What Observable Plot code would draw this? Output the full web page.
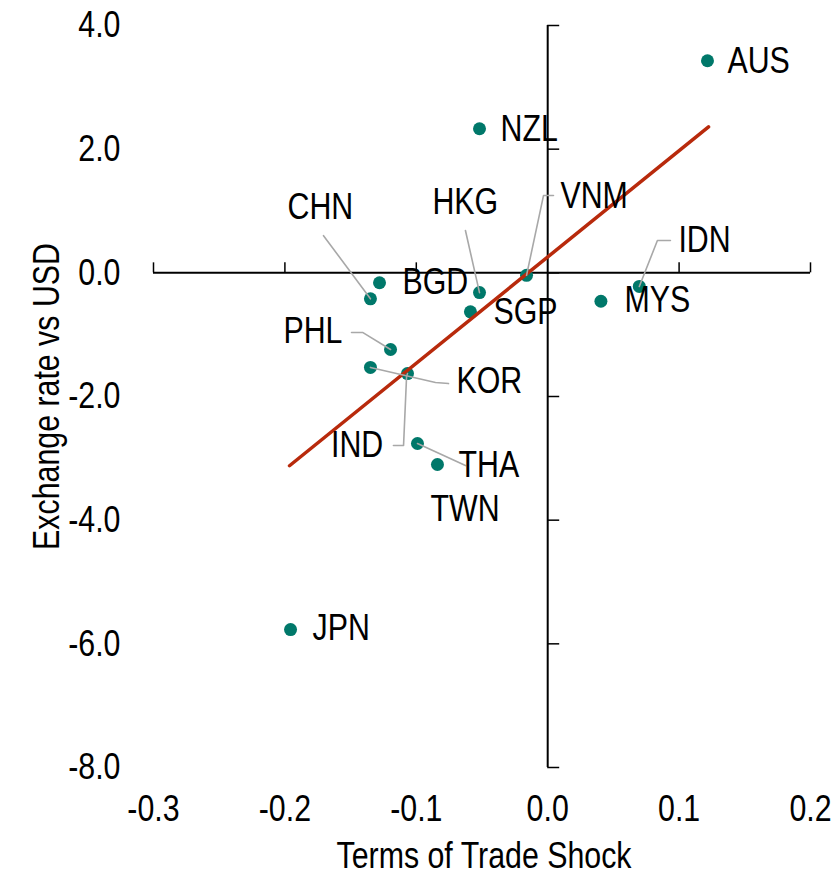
<!DOCTYPE html>
<html>
<head>
<meta charset="utf-8">
<script src="https://cdn.jsdelivr.net/npm/d3@7"></script>
<script src="https://cdn.jsdelivr.net/npm/@observablehq/plot@0.6"></script>
<style>
  html, body { margin: 0; padding: 0; background: #fff; }
  #chart svg { display: block; }
</style>
</head>
<body>
<div id="chart"></div>
<script>
// ---- data ----
const countries = ["AUS","NZL","BGD","CHN","HKG","SGP","VNM","IDN","MYS","PHL","KOR","IND","TWN","THA","JPN"];
const totShock  = [0.1216,-0.0519,-0.128,-0.1349,-0.0519,-0.0588,-0.0161,0.0697,0.0405,-0.1196,-0.1349,-0.1067,-0.0991,-0.0839,-0.1957];
const fxChange  = [3.43, 2.33, -0.16, -0.42, -0.32, -0.63, -0.04, -0.22, -0.46, -1.24, -1.53, -1.63, -2.76, -3.10, -5.77];

// fitted line endpoints
const trendX = [-0.1965, 0.1224];
const trendY = [-3.12, 2.36];

// axis ticks
const xTicks = [-0.3, -0.2, -0.1, 0.0, 0.1, 0.2];
const yTicks = [-8, -6, -4, -2, 0, 2, 4];

// annotation placement (data units): label anchor
const labelX = [0.1368,-0.0359,-0.1105,-0.198,-0.0877,-0.0413,0.0097,0.0995,0.0584,-0.2011,-0.0694,-0.1649,-0.0892,-0.0679,-0.179];
const labelY = [3.43, 2.33, -0.157, 1.056, 1.137, -0.642, 1.234, 0.524, -0.448, -0.949, -1.758, -2.793, -3.828, -3.116, -5.753];

// leader line vertices (data units), ending at the country's point
const leaderPts = {
  CHN: [[-0.1706, 0.601]],
  HKG: [[-0.0626, 0.684]],
  VNM: [[0.0044, 1.250], [-0.0032, 1.250]],
  IDN: [[0.0934, 0.522], [0.0835, 0.522]],
  PHL: [[-0.1493, -0.964], [-0.1409, -0.964]],
  KOR: [[-0.0755, -1.791], [-0.0854, -1.773]],
  IND: [[-0.1174, -2.793], [-0.1097, -2.793], [-0.1074, -1.677]],
  TWN: [[-0.0626, -3.117]]
};

// ---- build tables ----
const points = countries.map((c, i) => ({c, x: totShock[i], y: fxChange[i], lx: labelX[i], ly: labelY[i]}));
const trend = trendX.map((x, i) => ({x, y: trendY[i]}));
const leaders = [];
for (const [c, pts] of Object.entries(leaderPts)) {
  const p = points.find(d => d.c === c);
  pts.forEach(([x, y]) => leaders.push({c, x, y}));
  leaders.push({c, x: p.x, y: p.y});
}

const FONT = "'Liberation Sans Narrow', 'Arial Narrow', 'Liberation Sans', Arial, sans-serif";
const FS = 37;
const fmt = d => d.toFixed(1);

const chart = Plot.plot({
  width: 836,
  height: 875,
  marginLeft: 153,
  marginRight: 26,
  marginTop: 25,
  marginBottom: 108,
  style: {fontFamily: FONT, fontSize: FS + "px", color: "#000", background: "#fff", overflow: "visible"},
  x: {domain: [-0.3, 0.2], axis: null},
  y: {domain: [-8, 4], axis: null},
  marks: [
    // axis lines through origin
    Plot.ruleY([0], {x1: -0.3, x2: 0.2, stroke: "#000", strokeWidth: 2}),
    Plot.ruleX([0], {y1: -8, y2: 4, stroke: "#000", strokeWidth: 2}),
    // tick marks
    Plot.ruleX(xTicks.filter(d => d !== 0), {x: d => d, y1: 0, y2: 0, insetTop: -10, stroke: "#000", strokeWidth: 1.5}),
    Plot.ruleY(yTicks, {y: d => d, x1: 0, x2: 0, insetRight: -12, stroke: "#000", strokeWidth: 1.5}),
    // tick labels
    Plot.text(yTicks, {y: d => d, text: d => fmt(d), frameAnchor: "left", textAnchor: "end", dx: -33, lineAnchor: "middle", fontSize: FS}),
    Plot.text(xTicks, {x: d => d, text: d => fmt(d), frameAnchor: "bottom", lineAnchor: "middle", dy: 42, fontSize: FS}),
    // axis titles
    Plot.text(["Terms of Trade Shock"], {frameAnchor: "bottom", textAnchor: "middle", lineAnchor: "middle", dx: 2, dy: 89, fontSize: FS}),
    Plot.text(["Exchange rate vs USD"], {frameAnchor: "left", textAnchor: "middle", lineAnchor: "middle", rotate: -90, dx: -106, fontSize: FS}),
    // data
    Plot.dot(points, {x: "x", y: "y", r: 6.5, fill: "#00786a", stroke: "none"}),
    Plot.line(trend, {x: "x", y: "y", stroke: "#b82a0c", strokeWidth: 3.5}),
    Plot.line(leaders, {x: "x", y: "y", z: "c", stroke: "#a8a8a8", strokeWidth: 1.6, curve: "linear"}),
    Plot.text(points, {x: "lx", y: "ly", text: "c", textAnchor: "start", lineAnchor: "middle", fontSize: FS, fill: "#000"})
  ]
});

// condense glyphs horizontally (Arial Narrow look) when no narrow face is installed
const narrowAvailable = document.fonts && document.fonts.check(`${FS}px 'Liberation Sans Narrow'`) &&
  (() => { const c = document.createElement("canvas").getContext("2d");
           c.font = `${FS}px 'Liberation Sans Narrow', monospace`; const a = c.measureText("HHHH").width;
           c.font = `${FS}px monospace`; const b = c.measureText("HHHH").width; return a !== b; })();
if (!narrowAvailable) {
  chart.querySelectorAll("text").forEach(t => {
    const tr = t.getAttribute("transform") || "";
    t.setAttribute("transform", (tr + " scale(0.82,1)").trim());
  });
}
document.getElementById("chart").appendChild(chart);
</script>
</body>
</html>
